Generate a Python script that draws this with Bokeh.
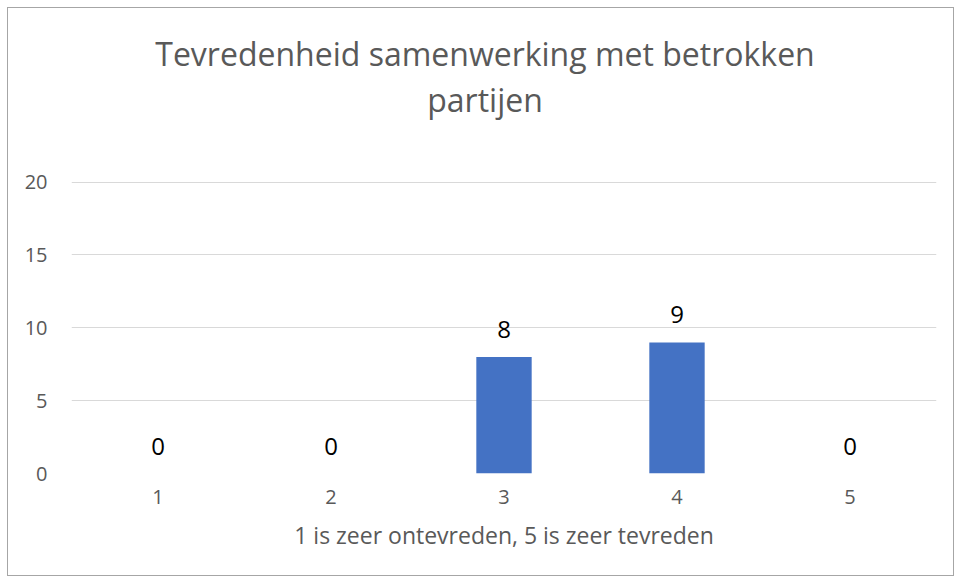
from bokeh.plotting import figure
from bokeh.models import ColumnDataSource, LabelSet, Label, Range1d
from bokeh.core.properties import value
from bokeh.embed import file_html
from bokeh.resources import INLINE

categories = [1, 2, 3, 4, 5]
counts = [0, 0, 8, 9, 0]
y_ticks = [0, 5, 10, 15, 20]
title_lines = ["Tevredenheid samenwerking met betrokken", "partijen"]
x_title = "1 is zeer ontevreden, 5 is zeer tevreden"

FONT = "Open Sans"
GREY = "#595959"

src = ColumnDataSource(dict(cat=categories, n=counts, lbl=[str(v) for v in counts]))

# the plot area reaches to the top of the chart so that the title can sit in it;
# the value axis (and its grid) stops at 20 through its ticker
FRAME_H = 466          # px from top of chart to the zero line
AXIS_H = 292           # px from zero line to the 20 line
y_end = y_ticks[-1] * FRAME_H / AXIS_H

p = figure(x_range=Range1d(0.5, 5.5), y_range=Range1d(0, y_end),
           width=947, height=569, output_backend="svg", toolbar_location=None,
           min_border_left=63, min_border_right=19, min_border_top=0, min_border_bottom=104)
p.styles = {"border": "1px solid #a6a6a6", "margin-left": "7px", "margin-top": "7px"}
p.outline_line_color = None
p.background_fill_color = "white"
p.border_fill_color = "white"

p.vbar(x="cat", top="n", width=0.32, source=src, fill_color="#4472C4", line_color=None)

labels = LabelSet(x="cat", y="n", text="lbl", source=src, y_offset=19,
                  text_align="center", text_baseline="bottom",
                  text_font=value(FONT), text_font_size="24px", text_color="black")
p.add_layout(labels)

# chart title, two centred lines above the value axis
mid_x = (categories[0] + categories[-1]) / 2
top_y = y_ticks[-1]
for line, dy in zip(title_lines, [129, 83]):
    p.add_layout(Label(x=mid_x, y=top_y, x_offset=-19, y_offset=dy, text=line,
                       text_align="center", text_baseline="middle",
                       text_font=FONT, text_font_size="32px", text_color=GREY))

p.xaxis.ticker = categories
p.yaxis.ticker = y_ticks
p.yaxis.axis_line_color = None
p.yaxis.major_tick_line_color = None
p.yaxis.minor_tick_line_color = None
p.yaxis.major_label_standoff = 18
p.yaxis.major_label_text_font = FONT
p.yaxis.major_label_text_font_size = "20px"
p.yaxis.major_label_text_color = GREY

p.xaxis.axis_line_color = None
p.xaxis.major_tick_line_color = None
p.xaxis.minor_tick_line_color = None
p.xaxis.major_label_standoff = 10
p.xaxis.major_label_text_font = FONT
p.xaxis.major_label_text_font_size = "20px"
p.xaxis.major_label_text_color = GREY
p.xaxis.axis_label = x_title
p.xaxis.axis_label_standoff = 12
p.xaxis.axis_label_text_font = FONT
p.xaxis.axis_label_text_font_size = "23px"
p.xaxis.axis_label_text_font_style = "normal"
p.xaxis.axis_label_text_color = GREY

p.xgrid.grid_line_color = None
p.ygrid.grid_line_color = "#d9d9d9"
p.ygrid.grid_line_width = 1

open("out.html", "w").write(file_html(p, INLINE))
